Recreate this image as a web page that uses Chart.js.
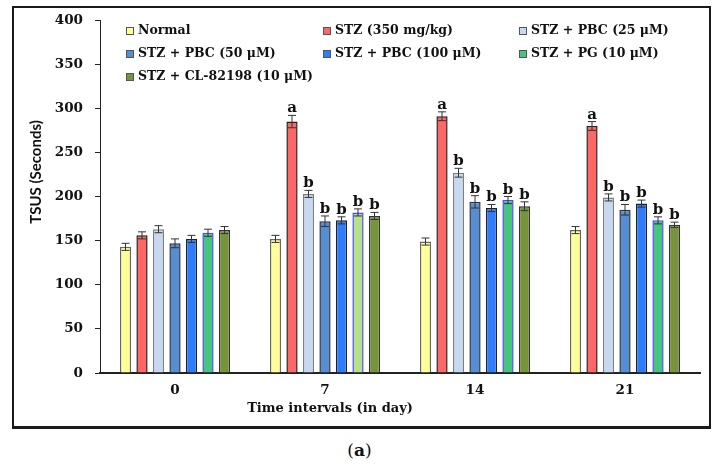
<!DOCTYPE html>
<html>
<head>
<meta charset="utf-8">
<script src="https://cdn.jsdelivr.net/npm/chart.js@4.4.0/dist/chart.umd.min.js"></script>
<style>
  body { margin: 0; background: #fff; }
  .wrap { position: relative; width: 719px; height: 470px; }
  .frame { position: absolute; left: 12px; top: 6px; width: 695px; height: 418px; border: 2px solid #1a1a1a; border-bottom-width: 3px; }
  canvas { position: absolute; left: 0; top: 0; }
  .caption { position: absolute; left: 0; width: 719px; top: 440px; text-align: center; font: 17px "DejaVu Serif"; color: #111; }
</style>
</head>
<body>
<div class="wrap">
  <div class="frame"></div>
  <canvas id="myChart" width="719" height="430"></canvas>
  <div class="caption">(<b>a</b>)</div>
</div>
<script>
const days = ['0', '7', '14', '21'];
const groupNames = ['Normal', 'STZ (350 mg/kg)', 'STZ + PBC (25 μM)', 'STZ + PBC (50 μM)',
  'STZ + PBC (100 μM)', 'STZ + PG (10 μM)', 'STZ + CL-82198 (10 μM)'];

// mean TSUS values (seconds) per day
const normal = [143, 152, 149, 162];
const stz = [156, 285, 291, 280];
const pbc25 = [163, 203, 227, 199];
const pbc50 = [147, 172, 194, 185];
const pbc100 = [152, 173, 187, 192];
const pg = [159, 182, 196, 173];
const cl = [162, 178, 189, 168];

// error bars
const normalErr = [4, 4, 4, 4];
const stzErr = [4, 7, 5, 5];
const pbc25Err = [4, 4, 5, 4];
const pbc50Err = [5, 6, 7, 6];
const pbc100Err = [4, 4, 4, 4];
const pgErr = [4, 4, 4, 4];
const clErr = [4, 4, 5, 3];

// significance letters
const stzSig = ['', 'a', 'a', 'a'];
const otherSig = ['', 'b', 'b', 'b'];

const yTicks = [0, 50, 100, 150, 200, 250, 300, 350, 400];
const xTitle = 'Time intervals (in day)';
const yTitle = 'TSUS (Seconds)';

const ctx = document.getElementById('myChart');

const errorBars = {
  id: 'errorBars',
  afterDatasetsDraw(chart) {
    const c = chart.ctx;
    const y = chart.scales.y;
    chart.data.datasets.forEach((ds, i) => {
      const meta = chart.getDatasetMeta(i);
      meta.data.forEach((bar, j) => {
        const v = ds.data[j];
        const e = ds.err[j];
        const top = y.getPixelForValue(v + e);
        const bot = y.getPixelForValue(v - e);
        c.save();
        c.strokeStyle = '#333';
        c.lineWidth = 1;
        c.beginPath();
        c.moveTo(bar.x, top); c.lineTo(bar.x, bot);
        c.moveTo(bar.x - 4, top); c.lineTo(bar.x + 4, top);
        c.moveTo(bar.x - 4, bot); c.lineTo(bar.x + 4, bot);
        c.stroke();
        if (ds.sig && ds.sig[j]) {
          c.fillStyle = '#111';
          c.font = 'bold 15px "DejaVu Serif"';
          c.textAlign = 'center';
          c.textBaseline = 'alphabetic';
          c.fillText(ds.sig[j], bar.x, top - 3);
        }
        c.restore();
      });
    });
  }
};

const gridLegend = {
  id: 'gridLegend',
  afterDraw(chart) {
    const c = chart.ctx;
    const cols = [126, 323, 519];
    const rows = [31, 54, 77];
    chart.data.datasets.forEach((ds, i) => {
      const x = cols[i % 3];
      const yy = rows[Math.floor(i / 3)];
      c.save();
      c.fillStyle = ds.legendColor;
      c.fillRect(x, yy - 4, 8, 8);
      c.strokeStyle = '#555';
      c.lineWidth = 1;
      c.strokeRect(x + 0.5, yy - 3.5, 7, 7);
      c.fillStyle = '#111';
      c.font = 'bold 12.5px "DejaVu Serif"';
      c.textBaseline = 'middle';
      c.fillText(ds.label, x + 12, yy);
      c.restore();
    });
    // axis titles (offset from axis centre as in the original)
    c.save();
    c.fillStyle = '#111';
    c.textAlign = 'center';
    c.textBaseline = 'middle';
    c.font = 'bold 13px "DejaVu Serif"';
    c.fillText(xTitle, 330, 409);
    c.translate(36, 172);
    c.rotate(-Math.PI / 2);
    c.font = 'bold 15px Lato';
    c.fillText(yTitle, 0, 0);
    c.restore();
  }
};

function makeSet(i, data, err, sig, bg, border) {
  return {
    label: groupNames[i],
    data: data,
    err: err,
    sig: sig,
    backgroundColor: bg,
    legendColor: Array.isArray(bg) ? bg[0] : bg,
    borderColor: border,
    borderWidth: 1.5,
    categoryPercentage: 0.77,
    barPercentage: 0.68
  };
}

new Chart(ctx, {
  type: 'bar',
  data: {
    labels: days,
    datasets: [
      makeSet(0, normal, normalErr, null, '#FFFF99', '#666'),
      makeSet(1, stz, stzErr, stzSig, '#FF6666', '#222'),
      makeSet(2, pbc25, pbc25Err, otherSig, '#C6D9F1', '#808080'),
      makeSet(3, pbc50, pbc50Err, otherSig, '#558ED5', '#333'),
      makeSet(4, pbc100, pbc100Err, otherSig, '#2E7DFF', '#222'),
      makeSet(5, pg, pgErr, otherSig, ['#47C47E', '#B8E08C', '#47C47E', '#47C47E'], '#4A4AFF'),
      makeSet(6, cl, clErr, otherSig, '#77933C', '#333')
    ]
  },
  options: {
    responsive: false,
    animation: false,
    devicePixelRatio: 1,
    layout: { padding: { left: 12, top: 16, right: 19, bottom: 0 } },
    plugins: {
      legend: { display: false },
      tooltip: { enabled: false }
    },
    scales: {
      x: {
        afterFit: (s) => { s.height = 57; },
        grid: { display: false, drawTicks: false },
        border: { display: true, color: '#222', width: 2 },
        ticks: { color: '#111', padding: 9, font: { family: 'DejaVu Serif', weight: 'bold', size: 13.5 } }
      },
      y: {
        min: 0, max: 400,
        afterFit: (s) => { s.width = 88; },
        afterBuildTicks: (s) => { s.ticks = yTicks.map(v => ({ value: v })); },
        grid: { drawOnChartArea: false, drawTicks: true, tickLength: 5, color: '#222' },
        border: { display: true, color: '#222', width: 1 },
        ticks: { color: '#111', padding: 12, font: { family: 'DejaVu Serif', weight: 'bold', size: 13.5 } }
      }
    }
  },
  plugins: [errorBars, gridLegend]
});
</script>
</body>
</html>
